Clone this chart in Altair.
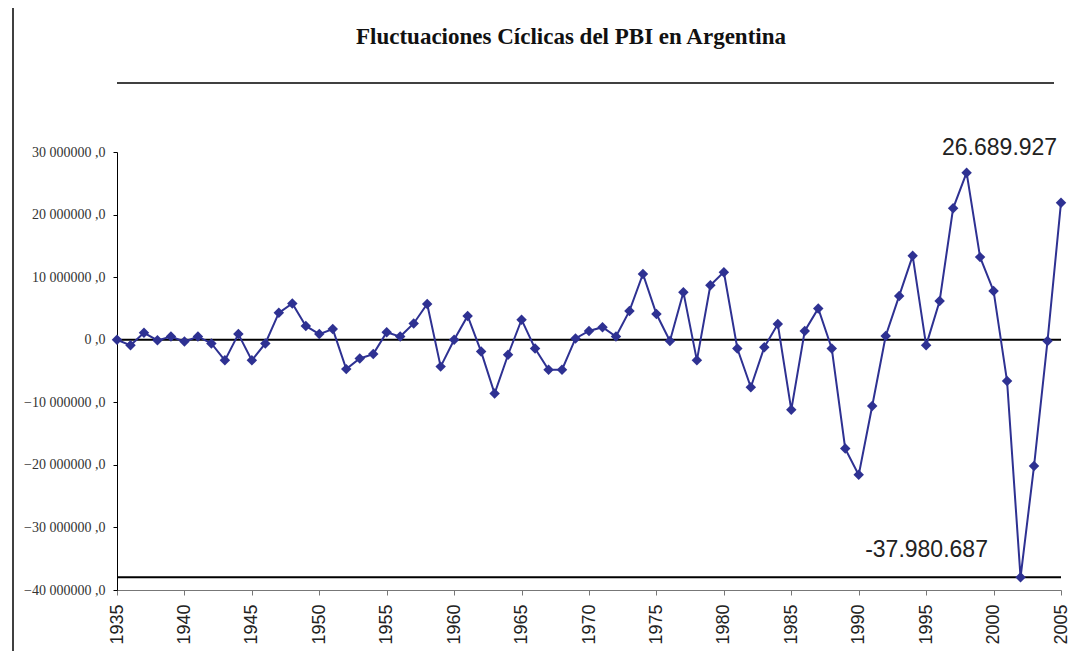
import altair as alt
import pandas as pd

years = list(range(1935, 2006))
values = [
    0, -900000, 1100000, -100000, 500000, -300000, 500000, -600000, -3300000, 900000,
    -3300000, -600000, 4300000, 5800000, 2200000, 900000, 1700000, -4700000, -3000000, -2300000,
    1200000, 500000, 2600000, 5700000, -4300000, 0, 3800000, -1900000, -8600000, -2400000,
    3200000, -1400000, -4800000, -4800000, 200000, 1400000, 2000000, 500000, 4600000, 10500000,
    4100000, -200000, 7600000, -3300000, 8700000, 10800000, -1400000, -7600000, -1200000, 2500000,
    -11200000, 1400000, 5000000, -1400000, -17400000, -21600000, -10600000, 600000, 7000000, 13400000,
    -900000, 6200000, 21000000, 26689927, 13200000, 7800000, -6600000, -37980687, -20200000, -200000,
    21900000,
]
x_ticks = list(range(1935, 2006, 5))
y_ticks = [-40000000, -30000000, -20000000, -10000000, 0, 10000000, 20000000, 30000000]
title_text = "Fluctuaciones Cíclicas del PBI en Argentina"

def fmt(v):
    return f"{v:,}".replace(",", ".")

vmax, vmin = max(values), min(values)
df = pd.DataFrame({"year": years, "value": values})
df["maxlab"] = [fmt(v) if v == vmax else "" for v in values]
df["minlab"] = [fmt(v) if v == vmin else "" for v in values]

navy = "#2E3192"
W, H = 944, 438

xs = alt.X("year:Q", scale=alt.Scale(domain=[1935, 2005], nice=False, zero=False),
           axis=alt.Axis(values=x_ticks, format="d", title=None, labelAngle=270,
                         labelAlign="right", labelBaseline="middle",
                         labelFont="Liberation Sans", labelFontSize=18, labelColor="#222",
                         labelPadding=9, tickSize=5, tickColor="#777", domainColor="#777",
                         grid=False, labelOverlap=False))
ys = alt.Y("value:Q", scale=alt.Scale(domain=[-40000000, 30000000], nice=False, zero=False),
           axis=alt.Axis(values=y_ticks, title=None, grid=False,
                         labelExpr="datum.value == 0 ? '0 ,0' : format(datum.value/1000000, 'd') + ' 000000 ,0'",
                         labelFont="Liberation Serif", labelFontSize=14, labelColor="#333",
                         labelPadding=8, tickSize=4, tickColor="#000", domainColor="#000"))

base = alt.Chart(df)

line = base.mark_line(color=navy, strokeWidth=2,
                      point=alt.OverlayMarkDef(shape="diamond", size=110, filled=True, color=navy, opacity=1)
                      ).encode(x=xs, y=ys)

one = pd.DataFrame({"z": [0]})
zero_rule = alt.Chart(one).mark_rule(color="#000", strokeWidth=2).encode(y=alt.Y("z:Q"))
min_rule = base.transform_aggregate(mn="min(value)").mark_rule(color="#000", strokeWidth=2).encode(y=alt.Y("mn:Q"))

max_text = base.transform_filter("datum.maxlab != ''").mark_text(
    font="Liberation Sans", fontSize=23, color="#222", dx=33, dy=-18, baseline="alphabetic", align="center"
).encode(x=alt.X("year:Q"), y=alt.Y("value:Q"), text="maxlab:N")
min_text = base.transform_filter("datum.minlab != ''").mark_text(
    font="Liberation Sans", fontSize=23, color="#222", dx=-94, dy=-20, baseline="alphabetic", align="center"
).encode(x=alt.X("year:Q"), y=alt.Y("value:Q"), text="minlab:N")

title_mark = alt.Chart(one).mark_text(
    font="Liberation Serif", fontSize=23, fontWeight="bold", color="#111",
    align="center", baseline="alphabetic"
).encode(x=alt.value(454), y=alt.value(-108), text=alt.value(title_text))

top_rule = alt.Chart(one).mark_rule(color="#000", strokeWidth=1.5).encode(
    x=alt.value(0), x2=alt.value(937), y=alt.value(-69))
left_rule = alt.Chart(one).mark_rule(color="#000", strokeWidth=1.5).encode(
    x=alt.value(-104), y=alt.value(-144), y2=alt.value(499))

chart = alt.layer(zero_rule, min_rule, line, max_text, min_text, title_mark, top_rule, left_rule).properties(
    width=W, height=H,
    autosize=alt.AutoSizeParams(type="none"),
    padding={"left": 109, "top": 144, "right": 10, "bottom": 61},
).configure_view(stroke=None)

chart.save("out.html", embed_options={"renderer": "svg", "actions": False})
